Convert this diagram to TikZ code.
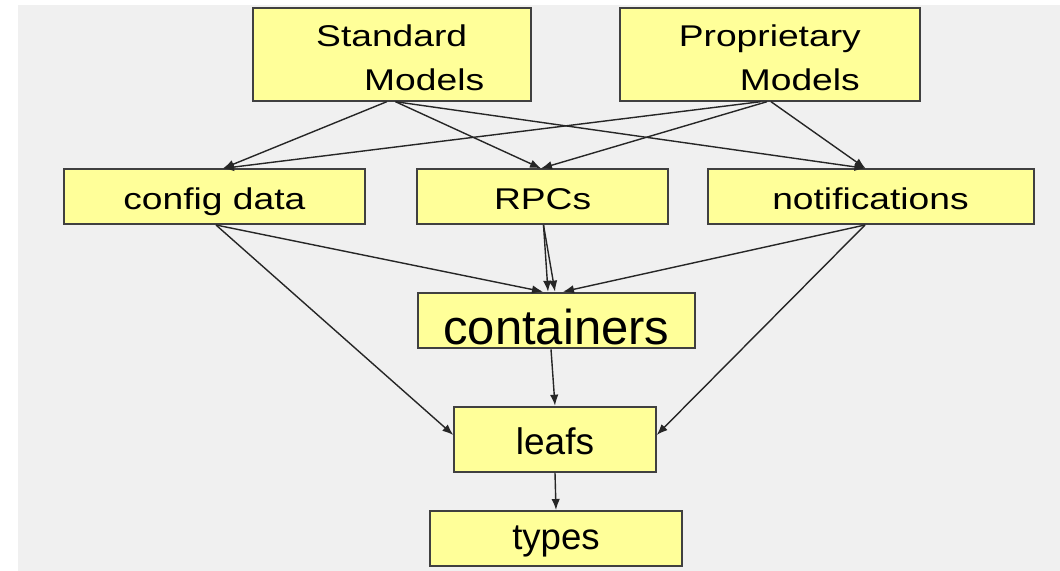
\documentclass[tikz,border=0pt]{standalone}
\usepackage{fontspec}
\setmainfont{Liberation Sans}
\newfontfamily\widefont{Liberation Sans}[FakeStretch=1.24]
\usetikzlibrary{arrows.meta}
\definecolor{boxyellow}{HTML}{FFFF99}
\definecolor{backgray}{HTML}{F0F0F0}
\tikzset{>={Latex[length=5.5pt,width=4.2pt]}}
\tikzset{
    box/.style={draw=black!75, line width=1pt, fill=boxyellow, inner sep=0pt, text depth=0pt},
    topfont/.style={font=\widefont\fontsize{15pt}{22pt}\selectfont},
    link/.style={->, line width=0.7pt, black!85}
}

\begin{document}
\begin{tikzpicture}[x=0.5pt, y=-0.5pt]

    \useasboundingbox (0,0) rectangle (1060,571);
    \fill[backgray] (18,5) rectangle (1060,571);

    % model sources
    \node[box, topfont, align=center, minimum width=139pt, minimum height=46.2pt,
        text height=36.2pt] (std) at (391.7,54.5) {Standard\\\hspace*{32.5pt}Models};
    \node[box, topfont, align=center, minimum width=150pt, minimum height=46.2pt,
        text height=36.2pt] (prop) at (769.8,54.5) {Proprietary\\\hspace*{30pt}Models};

    \node[box, topfont, minimum width=150.7pt, minimum height=27.3pt, text height=12.6pt] (cfg) at (214.4,196.7) {config data};
    \node[box, topfont, minimum width=125.8pt, minimum height=27.3pt, text height=12.6pt] (rpc) at (542.6,196.7) {RPCs};
    \node[box, topfont, minimum width=163pt, minimum height=27.3pt, text height=12.6pt] (notif) at (870.5,196.7) {notifications};

    \node[box, font=\fontsize{24.5pt}{28pt}\selectfont, minimum width=138.7pt, minimum height=27.8pt,
        text height=24.5pt] (cont) at (556.3,320.5) {containers};
    \node[box, font=\fontsize{18.5pt}{22pt}\selectfont, minimum width=100.7pt, minimum height=32.5pt,
        text height=14.8pt] (leafs) at (555,439.2) {leafs};
    \node[box, font=\fontsize{18.3pt}{22pt}\selectfont, minimum width=125.7pt, minimum height=27.3pt,
        text height=11pt] (types) at (556,538.3) {types};

    \draw[link] ([xshift=-2.45pt]std.south) -- ([xshift=4.3pt]cfg.north);
    \draw[link] ([xshift=1.9pt]std.south) -- ([xshift=-0.8pt]rpc.north);
    \draw[link] ([xshift=1.9pt]std.south) -- ([xshift=-2.5pt]notif.north);
    \draw[link] ([xshift=-4.6pt]prop.south) -- ([xshift=4.3pt]cfg.north);
    \draw[link] ([xshift=-1.4pt]prop.south) -- ([xshift=-0.8pt]rpc.north);
    \draw[link] ([xshift=0.6pt]prop.south) -- ([xshift=-2.5pt]notif.north);

    \draw[link] ([xshift=0.8pt]cfg.south) -- ([xshift=-6.65pt]cont.north);
    \draw[link] ([xshift=0.45pt]rpc.south) -- ([xshift=-4.15pt]cont.north);
    \draw[link] ([xshift=0.45pt]rpc.south) -- ([xshift=-0.65pt]cont.north);
    \draw[link] ([xshift=-2.75pt]notif.south) -- ([xshift=3.35pt]cont.north);

    \draw[link] ([xshift=0.8pt]cfg.south) -- ([yshift=2.1pt]leafs.west);
    \draw[link] ([xshift=-2.75pt]notif.south) -- ([yshift=2.1pt]leafs.east);
    \draw[link] ([xshift=-2.65pt]cont.south) -- (leafs.north);
    \draw[link] (leafs.south) -- (types.north);

\end{tikzpicture}
\end{document}
